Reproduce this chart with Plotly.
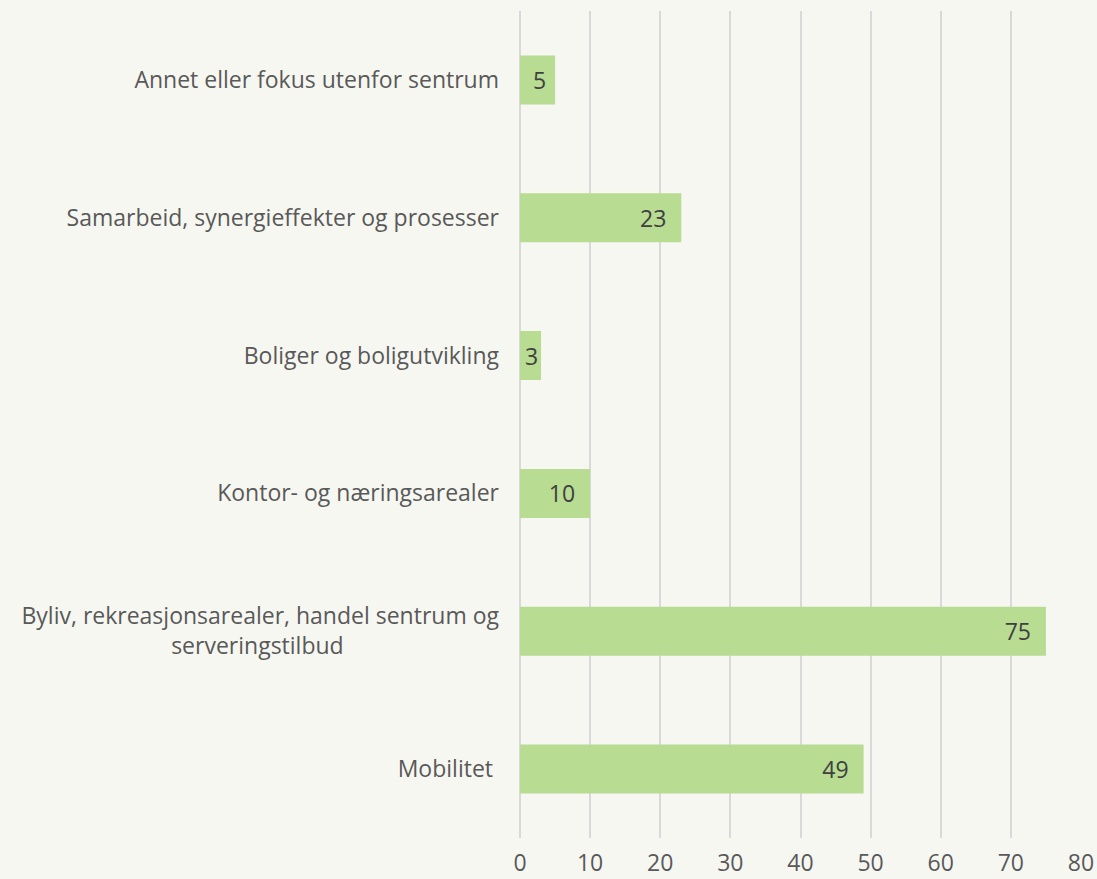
import plotly.graph_objects as go

categories = [
    "Mobilitet&nbsp;",
    "Byliv, rekreasjonsarealer, handel sentrum og<br>serveringstilbud" + "&nbsp;" * 26,
    "Kontor- og næringsarealer",
    "Boliger og boligutvikling",
    "Samarbeid, synergieffekter og prosesser",
    "Annet eller fokus utenfor sentrum",
]
values = [49, 75, 10, 3, 23, 5]
tick_vals = [0, 10, 20, 30, 40, 50, 60, 70, 80]

font_family = "'Open Sans', sans-serif"
fs = 23


def pad(v):
    if v >= 10:
        return "&nbsp;&nbsp;"
    if v >= 5:
        return "&nbsp;"
    return ""


labels = [str(v) + pad(v) for v in values]

fig = go.Figure(
    go.Bar(
        x=values,
        y=categories,
        orientation="h",
        marker=dict(color="#B8DC92", line=dict(width=0)),
        width=0.355,
        text=labels,
        textposition="inside",
        insidetextanchor="end",
        constraintext="none",
        textfont=dict(color="#404040", size=fs, family=font_family),
        cliponaxis=False,
    )
)

fig.update_layout(
    width=1097,
    height=879,
    paper_bgcolor="#F7F7F2",
    plot_bgcolor="#F7F7F2",
    margin=dict(l=520, r=16, t=11, b=41, autoexpand=False),
    font=dict(family=font_family, color="#595959", size=fs),
    showlegend=False,
    bargap=0.645,
)

fig.update_xaxes(
    range=[0, 80],
    tickvals=tick_vals,
    showgrid=True,
    gridcolor="#D9D9D9",
    gridwidth=1.5,
    zeroline=True,
    zerolinecolor="#D9D9D9",
    zerolinewidth=1.5,
    showline=False,
    ticks="",
    tickfont=dict(size=fs, color="#595959"),
    ticklabelstandoff=9,
    automargin=False,
)

fig.update_yaxes(
    showgrid=False,
    zeroline=False,
    showline=False,
    ticks="",
    tickfont=dict(size=fs, color="#595959"),
    ticklabelstandoff=20,
    automargin=False,
)

post = "document.body.style.margin='0';document.body.style.background='#F7F7F2';"
fig.write_html("out.html", post_script=post, config={"displayModeBar": False})
